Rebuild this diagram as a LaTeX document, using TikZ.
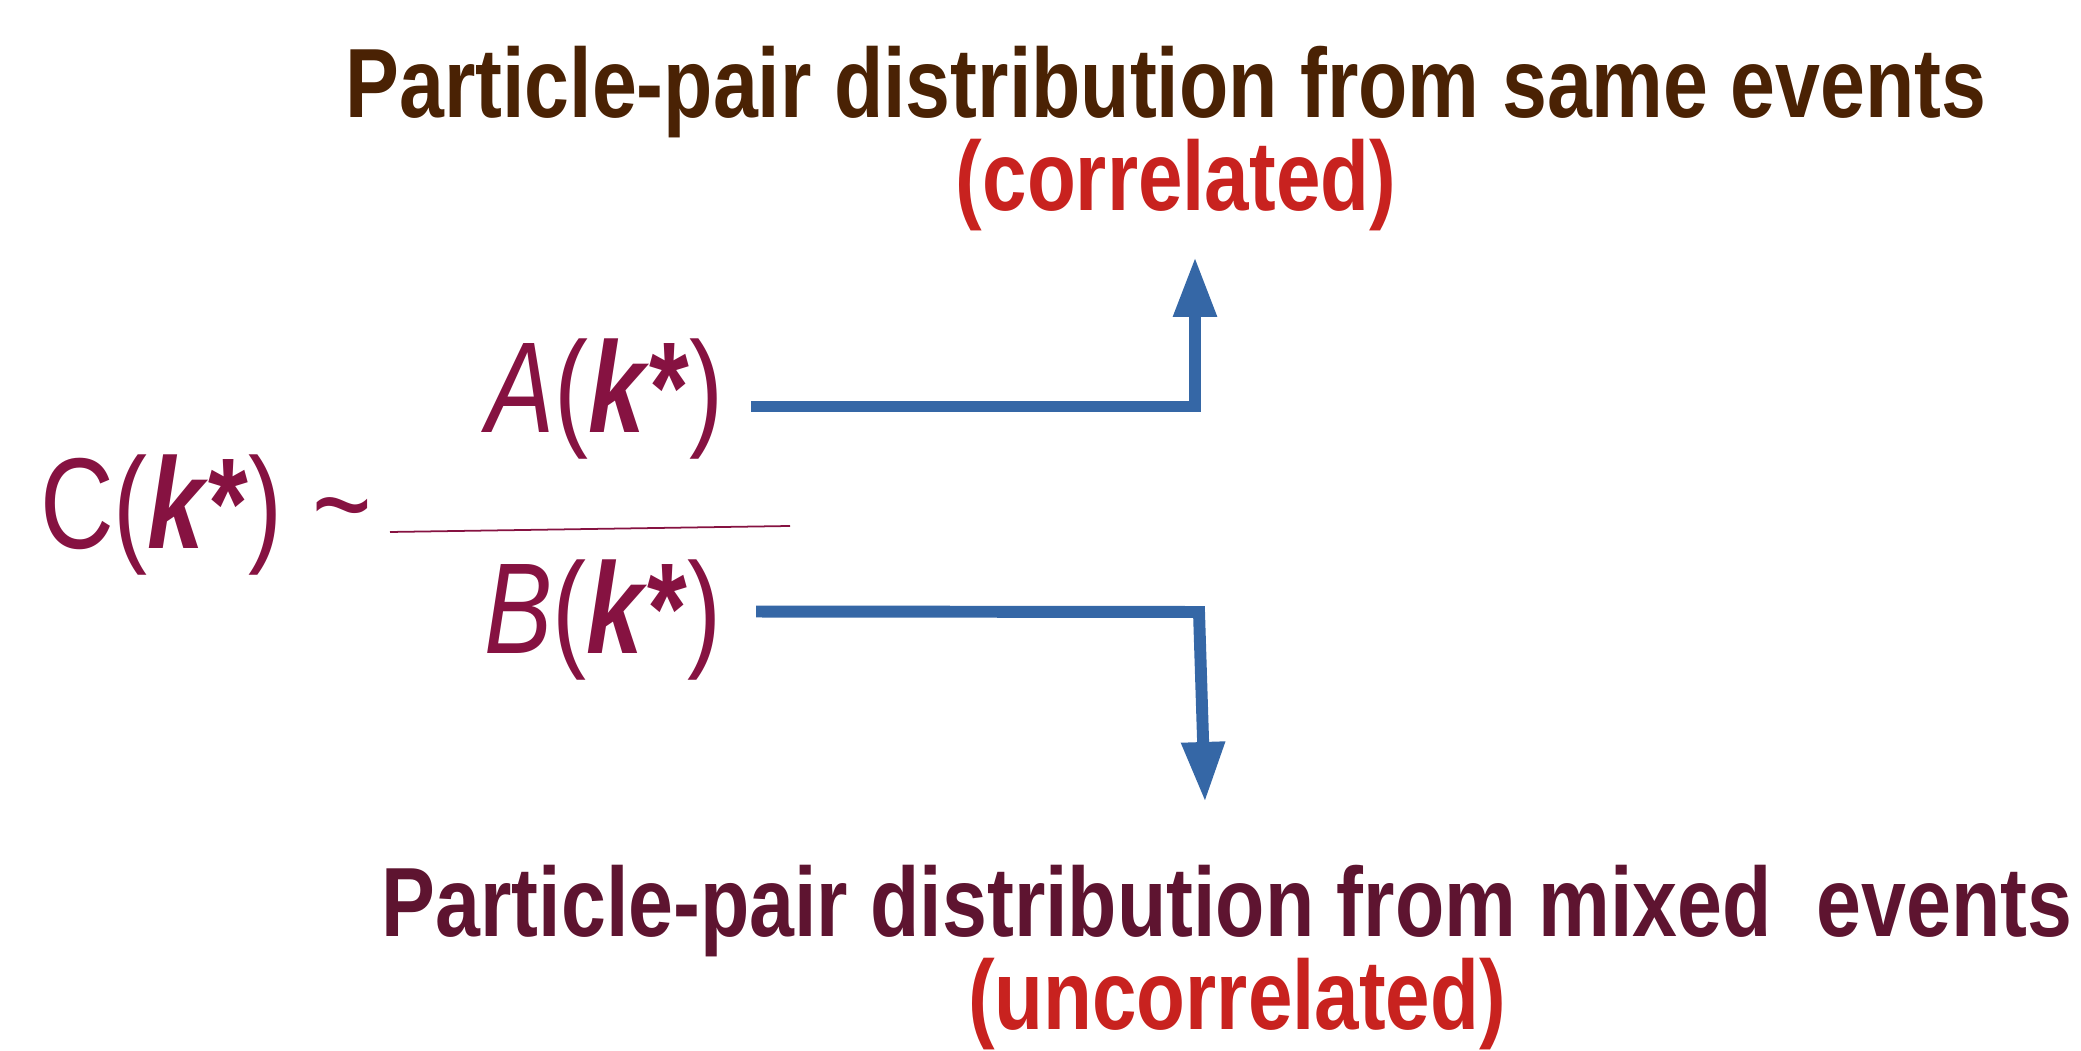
\documentclass[tikz,border=0pt]{standalone}
\usepackage{fontspec}
\usepackage{tikz}
\usetikzlibrary{arrows.meta,positioning}
\setmainfont{Liberation Sans}
\newfontfamily\narrowfont{Liberation Sans}[FakeStretch=0.82]
\newfontfamily\corrfont{Liberation Sans}[FakeStretch=0.813]
\newfontfamily\ratiofont{Liberation Sans}[FakeStretch=0.79]
\definecolor{PairBrown}{HTML}{4A2204}
\definecolor{PairWine}{HTML}{5E1430}
\definecolor{RatioMaroon}{HTML}{861241}
\definecolor{CorrRed}{HTML}{C8221F}
\definecolor{FlowBlue}{HTML}{3567A6}
\newcommand{\kstar}{(\textbf{\textit{k}*})}

\begin{document}
\begin{tikzpicture}[every node/.style={inner sep=0pt, outer sep=0pt},
  title/.style={anchor=base, font=\narrowfont\bfseries\fontsize{28}{31}\selectfont},
  label/.style={anchor=base, text=CorrRed, font=\corrfont\bfseries\fontsize{28}{31}\selectfont},
  ratio/.style={anchor=base west, text=RatioMaroon, font=\ratiofont\fontsize{36.8}{40}\selectfont},
  flow/.style={draw=FlowBlue, line width=3.4pt, -{Triangle[length=6mm,width=4.1mm]}}]
\useasboundingbox (0,0) rectangle (20.81,10.51);
% distributions
\node[title, text=PairBrown] (same) at (11.66,9.33) {Particle-pair distribution from same events};
\node[label] (corr) at (11.76,8.40) {(correlated)};
\node[title, text=PairWine] (mixed) at (12.27,1.14) {Particle-pair distribution from mixed\ \ events};
\node[label] (uncorr) at (12.37,0.21) {(uncorrelated)};
% correlation function
\node[ratio] (corrfn) at (0.40,5.02) {C\kstar};
\node[ratio, anchor=base] (tilde) at (3.42,5.02) {\textasciitilde};
\node[ratio] (numer) at (4.86,6.18) {\textit{A}\kstar};
\node[ratio] (denom) at (4.84,3.97) {\textit{B}\kstar};
\coordinate (fracL) at (3.90,5.19);
\coordinate (fracR) at (7.90,5.25);
\draw[RatioMaroon, line width=0.5pt] (fracL) -- (fracR);
% arrows
\coordinate (upTip) at (11.95,7.94);
\coordinate (lowCorner) at (11.99,4.39);
\coordinate (lowTip) at (12.05,2.49);
\draw[flow] ([shift={(2.8mm,-0.7mm)}]numer.east) -| (upTip);
\draw[flow] ([shift={(3.5mm,0.9mm)}]denom.east) -- (lowCorner) -- (lowTip);
\end{tikzpicture}
\end{document}
